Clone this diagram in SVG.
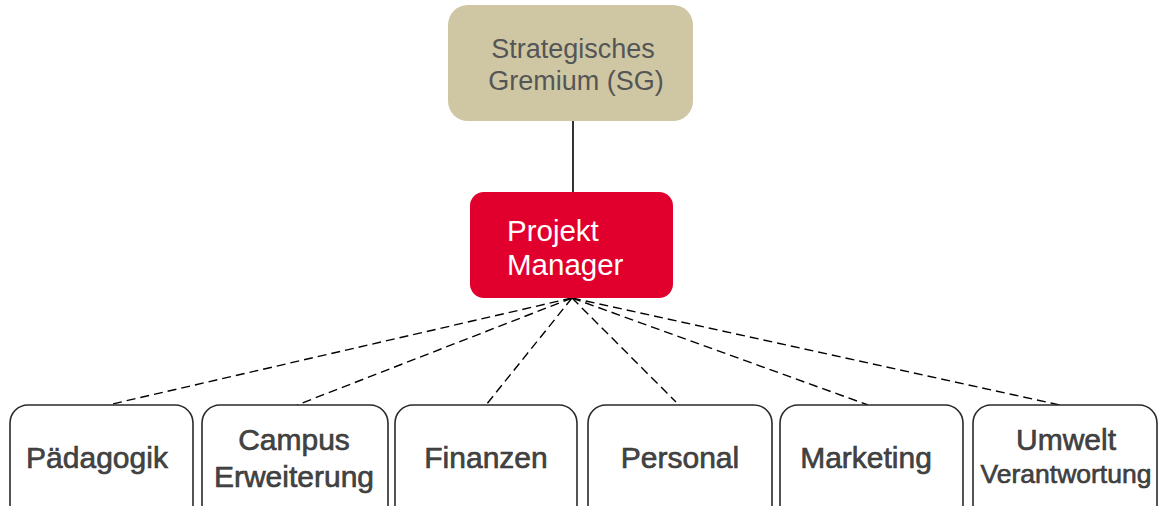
<svg xmlns="http://www.w3.org/2000/svg" width="1163" height="506" viewBox="0 0 1163 506">
  <style>
    .txt { font-family: "Liberation Sans", Arial, sans-serif; }
    .sg-box { fill: #cfc7a4; }
    .sg-txt { fill: #555555; font-size: 27px; }
    .pm-box { fill: #e1002d; }
    .pm-txt { fill: #ffffff; font-size: 29.5px; }
    .unit-box { fill: #ffffff; stroke: #2a2a2a; stroke-width: 1.6; }
    .unit-txt { fill: #444444; font-size: 30px; stroke: #333333; stroke-width: 0.6; text-anchor: middle; }
    .solid { stroke: #000000; stroke-width: 1.6; fill: none; }
    .dash { stroke: #000000; stroke-width: 1.4; stroke-dasharray: 9 5; fill: none; }
  </style>
  <rect width="1163" height="506" fill="#ffffff"/>

  <g id="connectors">
    <line class="solid" x1="573" y1="121" x2="573" y2="192"/>
    <line class="dash" x1="572" y1="298" x2="108" y2="405"/>
    <line class="dash" x1="572" y1="298" x2="297" y2="405"/>
    <line class="dash" x1="572" y1="298" x2="486" y2="405"/>
    <line class="dash" x1="572" y1="298" x2="676" y2="402"/>
    <line class="dash" x1="572" y1="298" x2="868" y2="405"/>
    <line class="dash" x1="572" y1="298" x2="1060" y2="405"/>
  </g>

  <g id="sg">
    <rect class="sg-box" x="448" y="5" width="245" height="116" rx="20"/>
    <text class="txt sg-txt" x="573" y="58" text-anchor="middle">Strategisches</text>
    <text class="txt sg-txt" x="576" y="90" text-anchor="middle">Gremium (SG)</text>
  </g>

  <g id="pm">
    <rect class="pm-box" x="470" y="192" width="203" height="106" rx="14"/>
    <text class="txt pm-txt" x="507" y="241">Projekt</text>
    <text class="txt pm-txt" x="507" y="275">Manager</text>
  </g>

  <g id="paedagogik">
    <rect class="unit-box" x="10" y="405" width="183" height="120" rx="18"/>
    <text class="txt unit-txt" x="97" y="468">Pädagogik</text>
  </g>

  <g id="campus">
    <rect class="unit-box" x="202" y="405" width="186" height="120" rx="18"/>
    <text class="txt unit-txt" x="294" y="450">Campus</text>
    <text class="txt unit-txt" x="294" y="487">Erweiterung</text>
  </g>

  <g id="finanzen">
    <rect class="unit-box" x="395" y="405" width="182" height="120" rx="18"/>
    <text class="txt unit-txt" x="486" y="468">Finanzen</text>
  </g>

  <g id="personal">
    <rect class="unit-box" x="588" y="405" width="184" height="120" rx="18"/>
    <text class="txt unit-txt" x="680" y="468">Personal</text>
  </g>

  <g id="marketing">
    <rect class="unit-box" x="780" y="405" width="183" height="120" rx="18"/>
    <text class="txt unit-txt" x="866" y="468">Marketing</text>
  </g>

  <g id="umwelt">
    <rect class="unit-box" x="973" y="405" width="184" height="120" rx="18"/>
    <text class="txt unit-txt" x="1066" y="450">Umwelt</text>
    <text class="txt unit-txt" x="1066" y="483" style="font-size:26.5px">Verantwortung</text>
  </g>
</svg>
